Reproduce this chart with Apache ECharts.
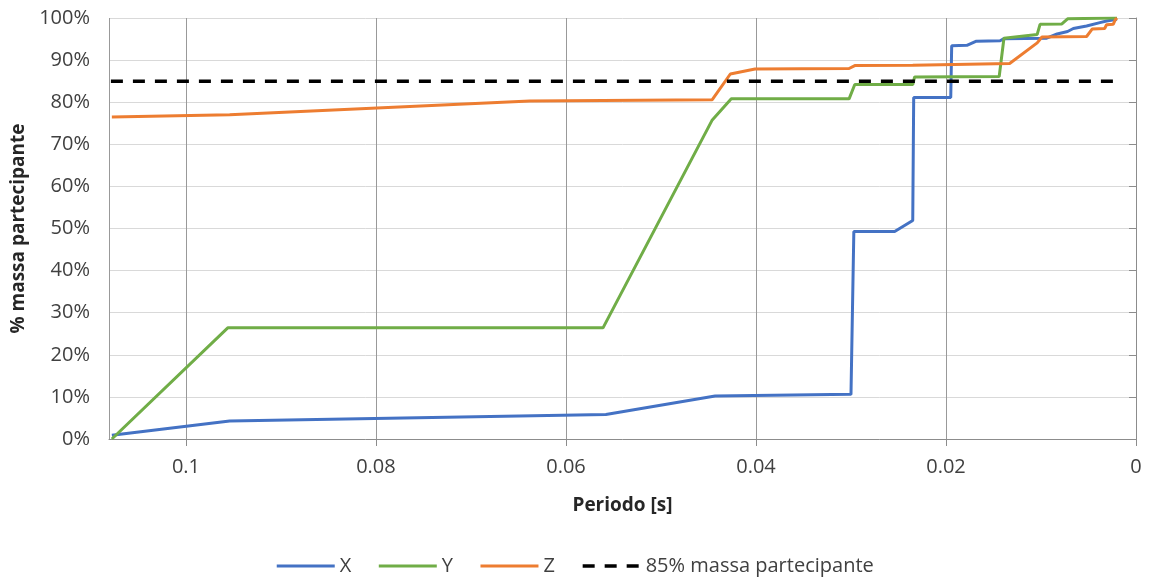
<!DOCTYPE html>
<html>
<head>
<meta charset="utf-8">
<title>Massa partecipante</title>
<script src="https://cdn.jsdelivr.net/npm/echarts@6/dist/echarts.min.js"></script>
<style>
    html, body { margin: 0; padding: 0; background: #ffffff; }
    #chart { width: 1149px; height: 578px; }
</style>
</head>
<body>
<div id="chart"></div>
<script>
// dati: periodo [s] e % di massa partecipante cumulata
const periodX = [0.1078, 0.0954, 0.0558, 0.0443, 0.0300, 0.0297, 0.0254, 0.0235, 0.0234, 0.0195, 0.0194, 0.0178, 0.0168, 0.0143, 0.0139, 0.0094, 0.0083, 0.0072, 0.0066, 0.0052, 0.0038, 0.0031, 0.0020];
const massaX  = [0.9, 4.3, 5.8, 10.2, 10.6, 49.3, 49.3, 51.9, 81.1, 81.1, 93.4, 93.5, 94.5, 94.6, 95.1, 95.2, 96.2, 96.8, 97.5, 98.1, 98.9, 99.3, 99.7];

const periodY = [0.1078, 0.0956, 0.0561, 0.0446, 0.0426, 0.0302, 0.0296, 0.0235, 0.0233, 0.0144, 0.0139, 0.0104, 0.0101, 0.0078, 0.0072, 0.0020];
const massaY  = [0.0, 26.4, 26.4, 75.8, 80.8, 80.8, 84.2, 84.2, 86.0, 86.1, 95.2, 96.1, 98.5, 98.6, 99.8, 100.0];

const periodZ = [0.1078, 0.0954, 0.0638, 0.0446, 0.0427, 0.0401, 0.0302, 0.0296, 0.0235, 0.0233, 0.0133, 0.0104, 0.0099, 0.0052, 0.0046, 0.0033, 0.0031, 0.0024, 0.0022, 0.0020];
const massaZ  = [76.5, 77.0, 80.3, 80.6, 86.7, 87.9, 88.0, 88.7, 88.8, 89.1, 89.2, 94.1, 95.5, 95.6, 97.4, 97.5, 98.4, 98.5, 99.5, 100.0];

// soglia 85% (linea tratteggiata)
const periodSoglia = [0.1079, 0.0014];
const massaSoglia  = [85, 85];

const seriesNames = ['X', 'Y', 'Z', '85% massa partecipante'];
const seriesColors = ['#4472C4', '#70AD47', '#ED7D31', '#000000'];

const xMin = 0, xMax = 0.1081, xStep = 0.02;
const yMin = 0, yMax = 100, yStep = 10;

const FONT = '"Open Sans", "Noto Sans", sans-serif';

//coppie [periodo, valore] per la serie
function _pairs(xs, ys){
    let arr = [];
    for(let i = 0; i < xs.length; i++){
        arr.push([xs[i], ys[i]]);
    }
    return arr;
}

function _lineSeries(name, color, data, dashed){
    return {
        type: 'line',
        name: name,
        data: data,
        symbol: 'none',
        smooth: false,
        lineStyle: {
            color: color,
            width: dashed ? 3.5 : 3,
            type: dashed ? [12, 10] : 'solid'
        },
        itemStyle: { color: color }
    };
}

function initChart(dom){
    let chartDom = document.getElementById(dom);
    let myChart = echarts.init(chartDom, null, { renderer: 'canvas' });

    let option = {
        animation: false,
        backgroundColor: '#ffffff',
        textStyle: { fontFamily: FONT },
        grid: {
            left: 109,
            right: 13,
            top: 18,
            bottom: 139
        },
        legend: {
            data: seriesNames,
            top: 551,
            left: 'center',
            itemWidth: 58,
            itemHeight: 14,
            itemGap: 26,
            // niente simbolo nella legenda, solo la linea (spessore della serie)
            itemStyle: { opacity: 0 },
            lineStyle: { width: 'inherit' },
            textStyle: { color: '#404040', fontSize: 20, fontFamily: FONT }
        },
        xAxis: {
            type: 'value',
            inverse: true,
            min: xMin,
            max: xMax,
            interval: xStep,
            name: 'Periodo [s]',
            nameLocation: 'middle',
            nameGap: 57,
            nameTextStyle: { color: '#262626', fontSize: 19, fontWeight: 'bold', fontFamily: FONT },
            axisLine: { show: true, lineStyle: { color: '#8c8c8c', width: 1 } },
            axisTick: { show: true, length: 7, lineStyle: { color: '#8c8c8c' } },
            axisLabel: {
                color: '#404040',
                fontSize: 20,
                margin: 18,
                showMaxLabel: false,
                formatter: function(v){ return String(Math.round(v * 100) / 100); }
            },
            splitLine: { show: true, lineStyle: { color: '#999999', width: 1 } }
        },
        yAxis: {
            type: 'value',
            min: yMin,
            max: yMax,
            interval: yStep,
            name: '% massa partecipante',
            nameLocation: 'middle',
            nameGap: 73,
            nameTextStyle: { color: '#262626', fontSize: 19, fontWeight: 'bold', fontFamily: FONT },
            axisLine: { show: true, lineStyle: { color: '#8c8c8c', width: 1 } },
            axisTick: { show: true, length: 7, lineStyle: { color: '#8c8c8c' } },
            axisLabel: {
                color: '#404040',
                fontSize: 20,
                margin: 19,
                formatter: '{value}%'
            },
            splitLine: { show: true, lineStyle: { color: '#d9d9d9', width: 1 } }
        },
        series: [
            _lineSeries(seriesNames[0], seriesColors[0], _pairs(periodX, massaX), false),
            _lineSeries(seriesNames[1], seriesColors[1], _pairs(periodY, massaY), false),
            _lineSeries(seriesNames[2], seriesColors[2], _pairs(periodZ, massaZ), false),
            _lineSeries(seriesNames[3], seriesColors[3], _pairs(periodSoglia, massaSoglia), true)
        ]
    };

    myChart.setOption(option);
    return myChart;
}

initChart('chart');
</script>
</body>
</html>
